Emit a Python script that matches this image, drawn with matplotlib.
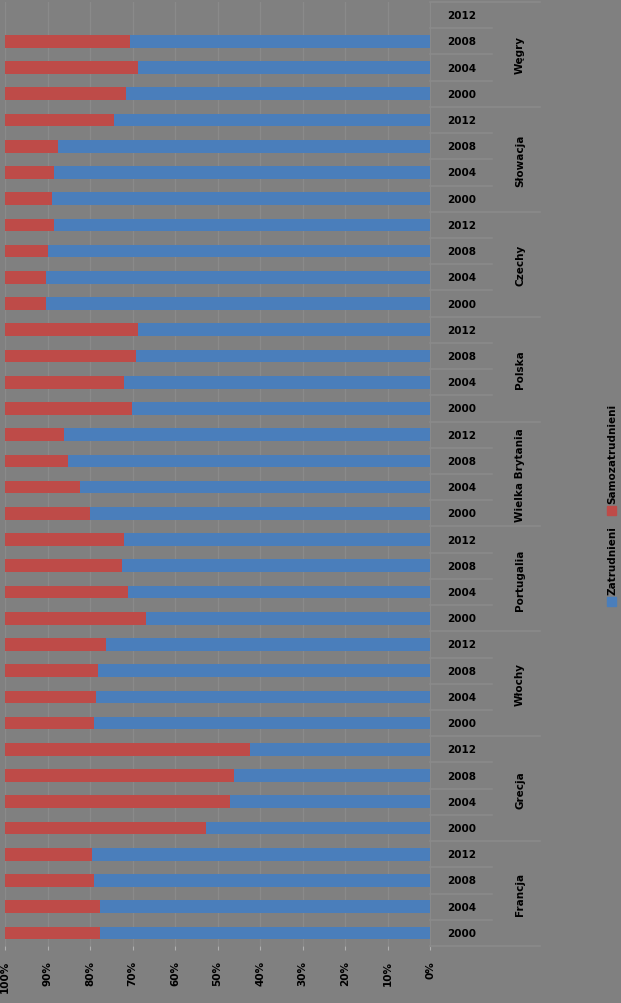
import numpy as np
import matplotlib
matplotlib.use('Agg')
import matplotlib.pyplot as plt
import matplotlib.transforms as mtransforms
from matplotlib.patches import Rectangle

countries = ['Francja', 'Grecja', 'Włochy', 'Portugalia', 'Wielka Brytania',
             'Polska', 'Czechy', 'Słowacja', 'Węgry']
years = ['2000', '2004', '2008', '2012']

# udział drugiej serii (czerwonej) w %, kolejno lata 2000, 2004, 2008, 2012
red_share = {
    'Francja': [22.4, 22.4, 20.9, 20.5],
    'Grecja': [47.3, 52.9, 53.9, 57.6],
    'Włochy': [20.9, 21.4, 21.9, 23.8],
    'Portugalia': [33.2, 28.9, 27.5, 28.0],
    'Wielka Brytania': [20.0, 17.6, 14.8, 13.9],
    'Polska': [29.9, 28.0, 30.8, 31.3],
    'Czechy': [9.6, 9.6, 10.1, 11.5],
    'Słowacja': [11.1, 11.5, 12.5, 25.6],
    'Węgry': [28.5, 31.3, 29.4, np.nan],
}
series_names = ['Zatrudnieni', 'Samozatrudnieni']
x_ticks = [0, 10, 20, 30, 40, 50, 60, 70, 80, 90, 100]

BG = '#808080'
BLUE = '#4a7ebb'
RED = '#be4b48'
LINE = '#8a8a8a'

red = np.array([v for c in countries for v in red_share[c]])
blue = 100 - red
pos = np.arange(len(red))

fig = plt.figure(figsize=(6.21, 10.04), dpi=100, facecolor=BG)
ax = fig.add_axes([5 / 621, 1 - 947 / 1004, 425 / 621, 944 / 1004])
ax.set_facecolor(BG)

ok = ~np.isnan(red)
ax.barh(pos[ok], blue[ok], height=0.48, color=BLUE, zorder=3)
ax.barh(pos[ok], red[ok], left=blue[ok], height=0.48, color=RED, zorder=3)

ax.set_xlim(100, 0)
ax.set_ylim(-0.5, len(red) - 0.5)
for t in x_ticks:
    ax.axvline(t, color=LINE, lw=1, zorder=1)

for s in ['top', 'left', 'bottom']:
    ax.spines[s].set_visible(False)
ax.spines['right'].set_color(LINE)
ax.set_yticks([])
ax.set_xticks(x_ticks)
ax.set_xticklabels([f'{t}%' for t in x_ticks], rotation=90, fontsize=7.5,
                   fontweight='bold', va='top')
ax.tick_params(axis='x', length=3, color='#b0b0b0', pad=7)

# oś kategorii po prawej stronie
tr = mtransforms.blended_transform_factory(ax.transAxes, ax.transData)
px = 1 / 425  # jeden piksel w jednostkach osi
for i, y in enumerate(pos):
    ax.text(1 + 32 * px, y, years[i % 4], transform=tr, fontsize=7.5,
            fontweight='bold', ha='center', va='center')
    edge = y - 0.5
    length = 110 if i % 4 == 0 else 62
    ax.plot([1, 1 + length * px], [edge, edge], transform=tr, color=LINE,
            lw=1.2, clip_on=False)
ax.plot([1, 1 + 110 * px], [len(red) - 0.5] * 2, transform=tr, color=LINE,
        lw=1.2, clip_on=False)

for k, c in enumerate(countries):
    ax.text(1 + 90 * px, 4 * k + 1.5, c, transform=tr, fontsize=7.5,
            fontweight='bold', rotation=90, ha='center', va='center')

# legenda (obrócona)
fig.patches.append(Rectangle((607 / 621, 1 - 607 / 1004), 9 / 621, 9 / 1004,
                             transform=fig.transFigure, color=BLUE))
fig.text(612 / 621, 1 - 595 / 1004, series_names[0], rotation=90, fontsize=7.5,
         fontweight='bold', ha='center', va='bottom')
fig.patches.append(Rectangle((607 / 621, 1 - 516 / 1004), 9 / 621, 9 / 1004,
                             transform=fig.transFigure, color=RED))
fig.text(612 / 621, 1 - 504 / 1004, series_names[1], rotation=90, fontsize=7.5,
         fontweight='bold', ha='center', va='bottom')

fig.savefig('out.png', dpi=100, facecolor=BG)
